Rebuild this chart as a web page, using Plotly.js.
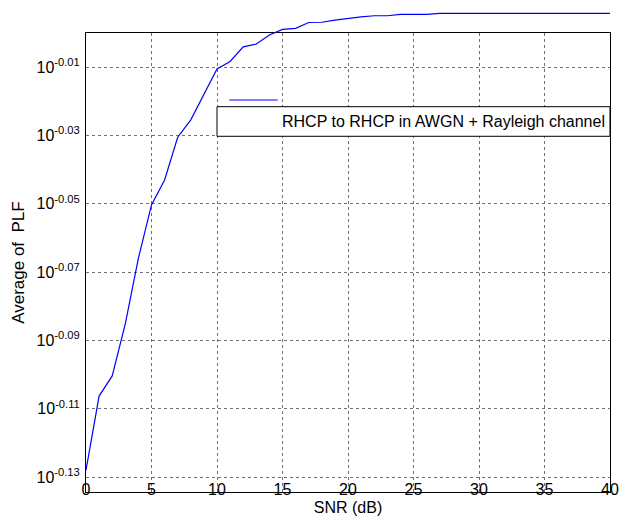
<!DOCTYPE html>
<html>
<head>
<meta charset="utf-8">
<script src="https://cdn.plot.ly/plotly-3.0.1.min.js"></script>
<style>
html,body{margin:0;padding:0;background:#ffffff;}
#chart{width:627px;height:520px;}
</style>
</head>
<body>
<div id="chart"></div>
<script>
// ---- data ----
const snr = [0,1,2,3,4,5,6,7,8,9,10,11,12,13,14,15,16,17,18,19,20,
             21,22,23,24,25,26,27,28,29,30,31,32,33,34,35,36,37,38,39,40];
const avgPLF = [0.7447,0.7829,0.7936,0.8219,0.8592,0.8906,0.9057,0.9322,0.9432,0.9592,0.9761,
                0.9811,0.9908,0.9927,0.9988,1.0025,1.0032,1.0072,1.0074,1.0088,1.0102,
                1.0111,1.0118,1.0118,1.0127,1.0127,1.0127,1.0134,1.0134,1.0134,1.0134,
                1.0134,1.0134,1.0134,1.0134,1.0134,1.0134,1.0134,1.0134,1.0134,1.0134];
const seriesName = 'RHCP to RHCP in AWGN + Rayleigh channel';
const xTickVals = [0,5,10,15,20,25,30,35,40];
const yTickExponents = [-0.13,-0.11,-0.09,-0.07,-0.05,-0.03,-0.01];
const yTickLabels = ['-0.13','-0.11','-0.09','-0.07','-0.05','-0.03','-0.01'];

// ---- axis geometry ----
const logMin = -0.13439;   // bottom of the axes box
const logBox = 0;          // top of the axes box (10^0)
const logTop = 0.006784;   // curve drawn above the box (unclipped)
const boxFrac = (logBox - logMin) / (logTop - logMin);

const yTickVals = yTickExponents.map(e => Math.pow(10, e));
const yTickText = yTickLabels.map(s => '10<sup>' + s + '</sup>');

const FONT = 'Arial, "Liberation Sans", Helvetica, sans-serif';

const trace = {
  x: snr, y: avgPLF, name: seriesName,
  xaxis: 'x2', yaxis: 'y2',
  mode: 'lines',
  line: {color: '#0000ff', width: 1.2},
  showlegend: false,
  hoverinfo: 'skip'
};

const gridStyle = {showgrid: true, gridcolor: '#707070', griddash: 'dot', gridwidth: 1};

const layout = {
  width: 627, height: 520,
  margin: {l: 86, r: 17, t: 10, b: 28},
  paper_bgcolor: '#ffffff',
  plot_bgcolor: 'rgba(0,0,0,0)',
  font: {family: FONT, color: '#000000', size: 15},
  showlegend: false,
  xaxis: Object.assign({
    domain: [0, 1], anchor: 'y', range: [0, 40],
    tickmode: 'array', tickvals: xTickVals,
    ticks: '', ticklabelposition: 'outside', ticklabelstandoff: -17,
    tickfont: {size: 16, family: FONT, color: '#000'},
    showline: true, linecolor: '#000000', linewidth: 1, mirror: true,
    zeroline: false,
    title: {text: 'SNR (dB)', font: {size: 16, family: FONT, color: '#000'}, standoff: 4}
  }, gridStyle),
  yaxis: Object.assign({
    domain: [0, boxFrac], anchor: 'x', type: 'log', range: [logMin, logBox],
    tickmode: 'array', tickvals: yTickVals, ticktext: yTickText,
    ticks: '', ticklabelstandoff: 2,
    tickfont: {size: 16, family: FONT, color: '#000'},
    showline: true, linecolor: '#000000', linewidth: 1, mirror: true,
    zeroline: false,
    title: {text: 'Average of  PLF', font: {size: 17, family: FONT, color: '#000'}, standoff: 7}
  }, gridStyle),
  xaxis2: {domain: [0, 1], anchor: 'y2', range: [0, 40], visible: false},
  yaxis2: {domain: [0, 1], anchor: 'x2', type: 'log', range: [logMin, logTop], visible: false},
  shapes: [
    // legend box
    {type: 'rect', layer: 'above', xref: 'x', yref: 'paper',
     x0: 10, x1: 40, y0: 0.7380, y1: 0.7994,
     fillcolor: '#ffffff', line: {color: '#000000', width: 1}},
    // legend line sample (sits above the box, as in the reference)
    {type: 'line', layer: 'above', xref: 'paper', yref: 'paper',
     x0: 0.2735, x1: 0.3658, y0: 0.8133, y1: 0.8133,
     line: {color: '#0000ff', width: 1.2}}
  ],
  annotations: [
    {text: seriesName, xref: 'paper', yref: 'paper', x: 0.6832, y: 0.7687,
     xanchor: 'center', yanchor: 'middle', showarrow: false,
     font: {size: 16, family: FONT, color: '#000'}}
  ]
};

Plotly.newPlot('chart', [trace], layout, {displayModeBar: false, staticPlot: true});
</script>
</body>
</html>
